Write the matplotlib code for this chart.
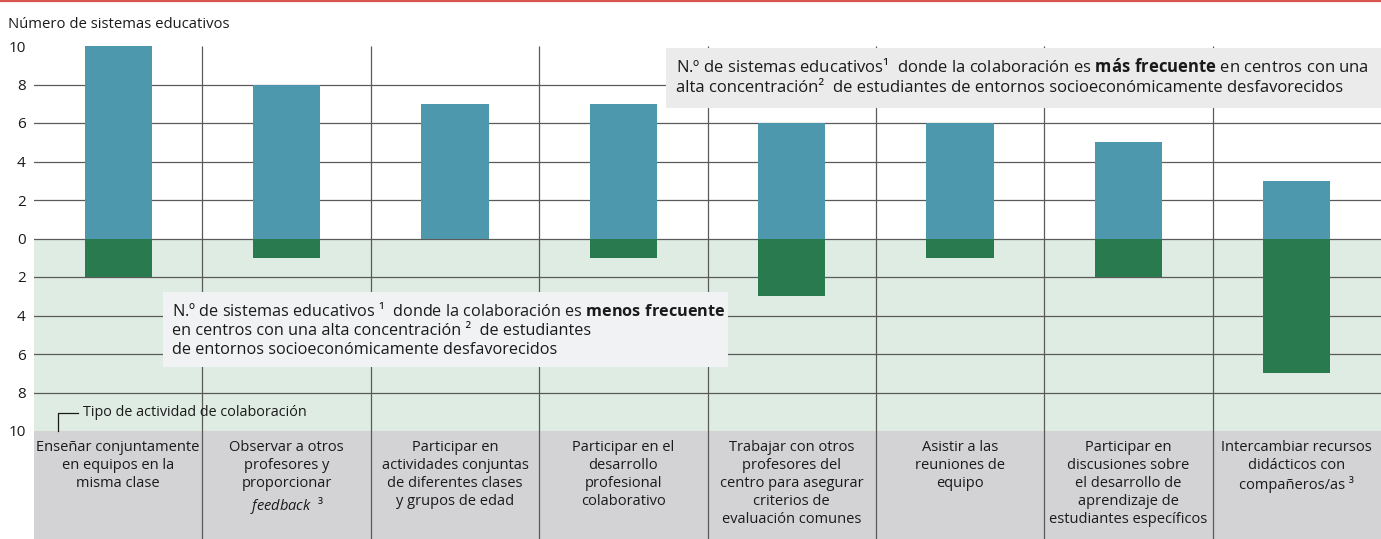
import matplotlib
matplotlib.use("Agg")
import matplotlib.pyplot as plt
from matplotlib.patches import Rectangle
from matplotlib.lines import Line2D

plt.rcParams["font.family"] = ["Open Sans", "DejaVu Sans"]
plt.rcParams["mathtext.fontset"] = "custom"
plt.rcParams["mathtext.rm"] = "Open Sans"
plt.rcParams["mathtext.it"] = "Open Sans:italic"
plt.rcParams["mathtext.bf"] = "Open Sans:bold"

# ---------------- data ----------------
categories = [
    "Enseñar conjuntamente\nen equipos en la\nmisma clase",
    "Observar a otros\nprofesores y\nproporcionar\n$\\it{feedback}$  ³",
    "Participar en\nactividades conjuntas\nde diferentes clases\ny grupos de edad",
    "Participar en el\ndesarrollo\nprofesional\ncolaborativo",
    "Trabajar con otros\nprofesores del\ncentro para asegurar\ncriterios de\nevaluación comunes",
    "Asistir a las\nreuniones de\nequipo",
    "Participar en\ndiscusiones sobre\nel desarrollo de\naprendizaje de\nestudiantes específicos",
    "Intercambiar recursos\ndidácticos con\ncompañeros/as ³",
]
more_frequent = [10, 8, 7, 7, 6, 6, 5, 3]
less_frequent = [2, 1, 0, 1, 3, 1, 2, 7]
ytick_values = [10, 8, 6, 4, 2, 0, -2, -4, -6, -8, -10]
ytick_labels = [str(abs(v)) for v in ytick_values]
grid_values = [8, 6, 4, 2, 0, -2, -4, -6, -8]

y_title = "Número de sistemas educativos"
axis_note = "Tipo de actividad de colaboración"
note_more = ("N.º de sistemas educativos¹  donde la colaboración es $\\bf{más\\ frecuente}$ en centros con una\n"
             "alta concentración²  de estudiantes de entornos socioeconómicamente desfavorecidos")
note_less = ("N.º de sistemas educativos ¹  donde la colaboración es $\\bf{menos\\ frecuente}$\n"
             "en centros con una alta concentración ²  de estudiantes\n"
             "de entornos socioeconómicamente desfavorecidos")

# ---------------- colours ----------------
BLUE = "#4e98ae"
GREEN = "#2a7a50"
BG_GREEN = "#deece3"
GRAY_BOX = "#d3d3d5"
NOTE_TOP = "#ebebeb"
NOTE_BOT = "#f1f2f3"
LINE = "#5a5a5a"
RED = "#d9534f"

W, H = 1381, 539
fig = plt.figure(figsize=(W / 100, H / 100), dpi=100)
fig.patch.set_facecolor("white")
left_px = 34
ax = fig.add_axes([left_px / W, 0, (W - left_px) / W, 1])

n = len(categories)
ppu = (431 - 46) / 20.0
ytop = 10 + 46 / ppu
ybot = -10 - (H - 431) / ppu
ax.set_xlim(0, n)
ax.set_ylim(ybot, ytop)
colw = (W - left_px) / n

def px2x(px):
    return (px - left_px) / colw

def px2y(py):
    return ytop - py / ppu

for s in ax.spines.values():
    s.set_visible(False)
ax.set_xticks([])
ax.set_yticks(ytick_values)
ax.set_yticklabels(ytick_labels, fontsize=11)
ax.tick_params(axis="y", length=0, pad=6, colors="#1a1a1a")
ax.set_facecolor("none")

# backgrounds
ax.add_patch(Rectangle((0, -10), n, 10, facecolor=BG_GREEN, edgecolor="none", zorder=0))
ax.add_patch(Rectangle((0, ybot), n, -10 - ybot, facecolor=GRAY_BOX, edgecolor="none", zorder=0))

# grid
for g in grid_values:
    ax.plot([0, n], [g, g], color=LINE, lw=0.9, zorder=1)
ax.vlines([i for i in range(1, n)], ybot, 10, color=LINE, lw=0.9, zorder=1)

# bars
xs = [i + 0.5 for i in range(n)]
ax.bar(xs, more_frequent, width=0.4, color=BLUE, zorder=2)
ax.bar(xs, [-v for v in less_frequent], width=0.4, color=GREEN, zorder=2)

# category labels
for x, lab in zip(xs, categories):
    ax.text(x, px2y(440), lab, ha="center", va="top", fontsize=10.5,
            linespacing=1.27, color="#1a1a1a", zorder=5)

# notes
ax.add_patch(Rectangle((px2x(666), px2y(108)), n - px2x(666), px2y(48) - px2y(108),
                       facecolor=NOTE_TOP, edgecolor="none", zorder=3))
ax.text(px2x(676), px2y(77), note_more, ha="left", va="center", fontsize=12,
        linespacing=1.3, color="#1a1a1a", zorder=4)

ax.add_patch(Rectangle((px2x(163), px2y(367)), px2x(728) - px2x(163), px2y(292) - px2y(367),
                       facecolor=NOTE_BOT, edgecolor="none", zorder=3))
ax.text(px2x(172), px2y(330), note_less, ha="left", va="center", fontsize=11.7,
        linespacing=1.25, color="#1a1a1a", zorder=4)

# axis note with bracket
ax.plot([px2x(58), px2x(58), px2x(78)], [-10, px2y(413), px2y(413)], color="#1a1a1a", lw=0.9, zorder=4)
ax.text(px2x(83), px2y(412), axis_note, ha="left", va="center", fontsize=10.4,
        color="#1a1a1a", zorder=4)

# title
fig.text(8 / W, 1 - 25 / H, y_title, ha="left", va="center", fontsize=10.7, color="#1a1a1a")

# red top rule
fig.add_artist(Line2D([0, 1], [1 - 0.8 / H, 1 - 0.8 / H], color=RED, lw=1.6, transform=fig.transFigure))

fig.savefig("out.png", dpi=100)
